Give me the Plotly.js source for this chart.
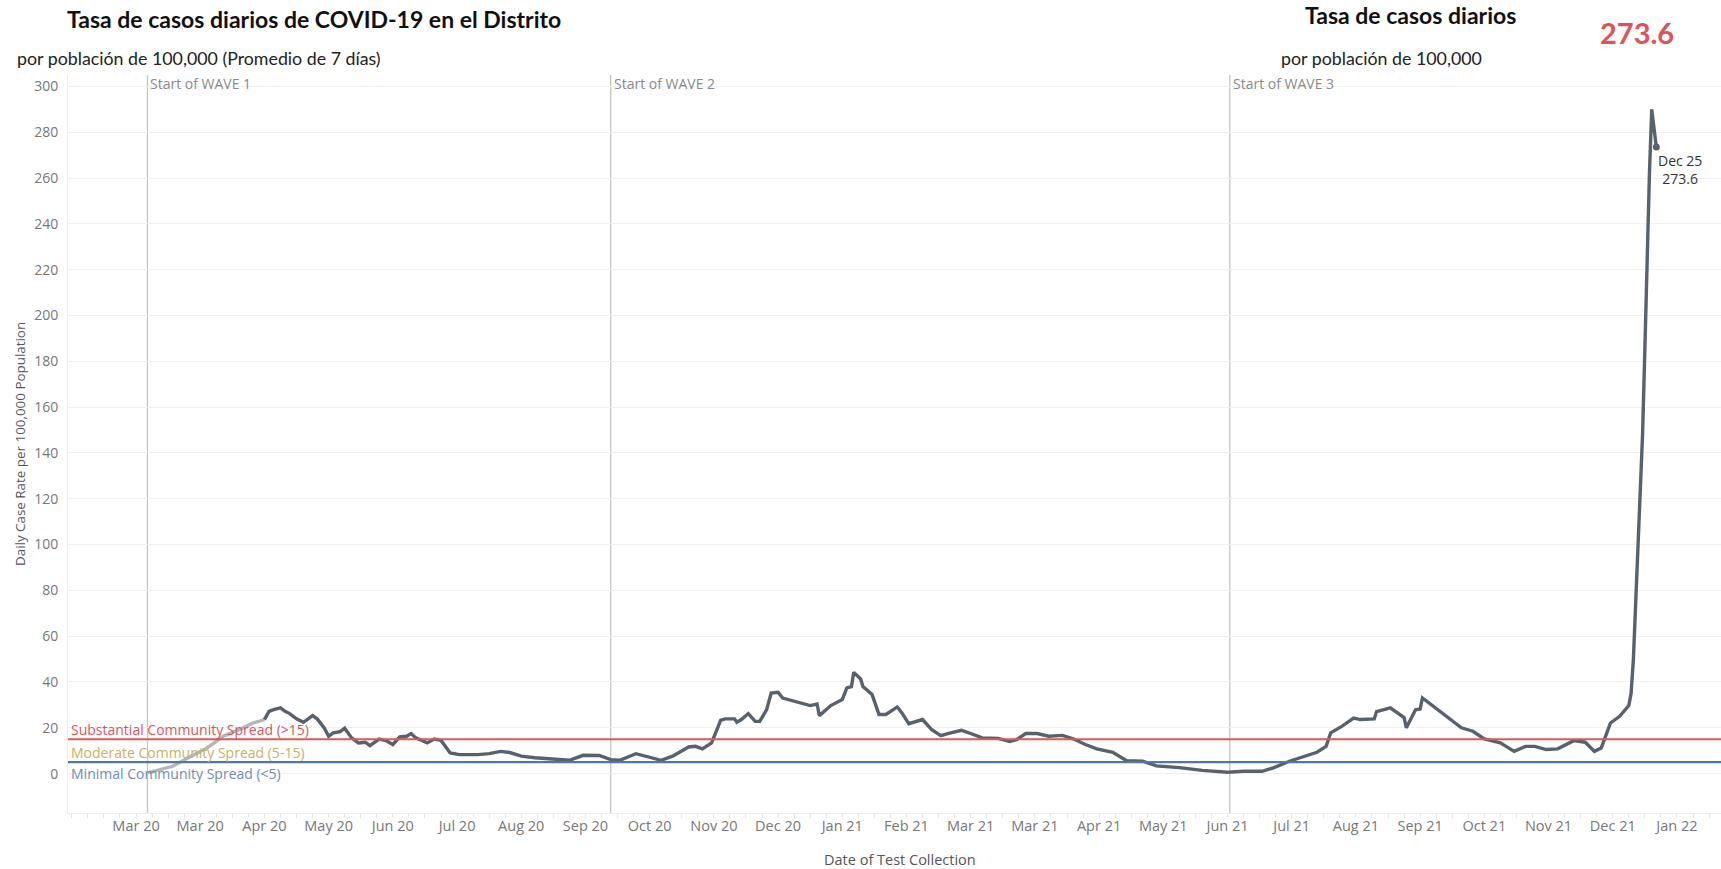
<!DOCTYPE html>
<html>
<head>
<meta charset="utf-8">
<script src="https://cdn.plot.ly/plotly-3.0.1.min.js"></script>
<style>
html,body{margin:0;padding:0;background:#fff;}
#chart{width:1721px;height:869px;}
</style>
</head>
<body>
<div id="chart"></div>
<script>
// Early (lighter) part of the curve
const earlyDates = ['2020-03-07','2020-03-12','2020-03-18','2020-03-26','2020-04-02','2020-04-09','2020-04-16','2020-04-22','2020-04-27'];
const earlyValues = [0.3,1.5,3.2,7.6,11.2,16.3,19.2,22.1,23.6];

// Main 7-day average daily case rate per 100,000
const caseDates = [
'2020-04-27','2020-04-29','2020-05-01','2020-05-04','2020-05-06','2020-05-08','2020-05-11','2020-05-14','2020-05-18','2020-05-20',
'2020-05-23','2020-05-25','2020-05-27','2020-05-30','2020-06-01','2020-06-04','2020-06-07','2020-06-10','2020-06-12','2020-06-16',
'2020-06-19','2020-06-22','2020-06-25','2020-06-28','2020-06-30','2020-07-02','2020-07-07','2020-07-10','2020-07-13','2020-07-17',
'2020-07-21','2020-07-29','2020-08-03','2020-08-08','2020-08-12','2020-08-17','2020-08-23','2020-09-01','2020-09-07','2020-09-13',
'2020-09-20','2020-09-25','2020-09-29','2020-10-06','2020-10-12','2020-10-17','2020-10-22','2020-10-29','2020-11-01','2020-11-04',
'2020-11-08','2020-11-10','2020-11-12','2020-11-14','2020-11-18','2020-11-19','2020-11-21','2020-11-24','2020-11-27','2020-11-29',
'2020-12-02','2020-12-04','2020-12-07','2020-12-09','2020-12-16','2020-12-21','2020-12-24','2020-12-25','2020-12-30','2021-01-04',
'2021-01-06','2021-01-08','2021-01-09','2021-01-12','2021-01-13','2021-01-17','2021-01-20','2021-01-23','2021-01-28','2021-01-30',
'2021-02-02','2021-02-08','2021-02-12','2021-02-16','2021-02-19','2021-02-25','2021-03-01','2021-03-06','2021-03-13','2021-03-18',
'2021-03-21','2021-03-25','2021-03-30','2021-04-04','2021-04-10','2021-04-15','2021-04-20','2021-04-25','2021-05-02','2021-05-08',
'2021-05-15','2021-05-21','2021-05-31','2021-06-10','2021-06-21','2021-06-28','2021-07-06','2021-07-11','2021-07-18','2021-07-25',
'2021-07-30','2021-08-03','2021-08-05','2021-08-10','2021-08-15','2021-08-18','2021-08-24','2021-08-25','2021-08-31','2021-09-06',
'2021-09-07','2021-09-11','2021-09-13','2021-09-14','2021-09-19','2021-09-24','2021-10-01','2021-10-06','2021-10-11','2021-10-18',
'2021-10-24','2021-10-29','2021-11-02','2021-11-07','2021-11-12','2021-11-19','2021-11-24','2021-11-28','2021-12-01','2021-12-05',
'2021-12-09','2021-12-13','2021-12-14','2021-12-15','2021-12-16','2021-12-17','2021-12-18','2021-12-19','2021-12-20','2021-12-21',
'2021-12-22','2021-12-23','2021-12-24','2021-12-25'
];
const caseValues = [
23.6,27.2,27.9,28.7,27.2,26.2,23.9,22.4,25.3,23.9,
20.0,16.3,17.8,18.3,19.8,15.6,13.4,13.7,12.2,15.1,
14.4,12.7,16.0,16.3,17.5,15.6,13.4,15.1,14.5,9.0,
8.3,8.3,8.7,9.7,9.2,7.6,6.9,6.4,5.8,8.0,
7.9,6.1,5.8,8.7,7.3,5.8,7.6,11.6,11.9,10.8,
13.4,18.5,23.3,23.9,23.9,22.4,23.6,26.2,22.8,22.8,
27.9,35.2,35.5,33.0,31.2,29.7,30.4,25.3,29.7,32.3,
37.4,38.0,44.2,41.3,38.0,34.5,25.8,25.8,29.1,26.5,
21.8,23.6,19.2,16.6,17.5,18.9,17.5,15.6,15.4,14.0,
14.8,17.5,17.5,16.3,16.7,15.1,12.7,10.8,9.3,5.6,
5.4,3.4,2.6,1.4,0.6,1.0,1.0,2.5,5.4,7.6,
9.3,11.9,17.8,20.7,24.2,23.6,23.9,27.1,28.7,24.5,
20.0,27.9,28.2,33.0,29.1,25.0,20.0,18.5,15.1,13.4,
9.7,11.9,11.9,10.5,10.8,14.4,13.7,9.7,11.2,22.1,
25.0,29.7,35.0,50.0,75.0,100.0,125.0,148.0,185.0,225.0,
262.0,290.0,282.0,273.6
];

// Axis ticks (every 4 weeks) and their labels
const tickDates = ['2020-03-02','2020-03-30','2020-04-27','2020-05-25','2020-06-22','2020-07-20','2020-08-17','2020-09-14','2020-10-12','2020-11-09','2020-12-07','2021-01-04','2021-02-01','2021-03-01','2021-03-29','2021-04-26','2021-05-24','2021-06-21','2021-07-19','2021-08-16','2021-09-13','2021-10-11','2021-11-08','2021-12-06','2022-01-03'];
const tickLabels = ['Mar 20','Mar 20','Apr 20','May 20','Jun 20','Jul 20','Aug 20','Sep 20','Oct 20','Nov 20','Dec 20','Jan 21','Feb 21','Mar 21','Mar 21','Apr 21','May 21','Jun 21','Jul 21','Aug 21','Sep 21','Oct 21','Nov 21','Dec 21','Jan 22'];

// Wave markers
const waveDates = ['2020-03-07','2020-09-25','2021-06-22'];
const waveLabels = ['Start of WAVE 1','Start of WAVE 2','Start of WAVE 3'];

// Community spread thresholds
const thresholdValues = [15, 5];
const thresholdColors = ['#e15759', '#4e79a7'];
const spreadLabels = ['Substantial Community Spread (>15)','Moderate Community Spread (5-15)','Minimal Community Spread (<5)'];
const spreadLabelValues = [19.2, 9.2, 0];
const spreadLabelColors = ['#d9575b','#c9b062','#6f8db3'];

const lastDate = caseDates[caseDates.length-1];
const lastValue = caseValues[caseValues.length-1];
const lastLabel = 'Dec 25';

const FONT = 'Open Sans, Lato, sans-serif';
const TFONT = 'Lato, Open Sans, sans-serif';

const traces = [
  {x: earlyDates, y: earlyValues, type:'scatter', mode:'lines',
   line:{color:'#b2b7bc', width:3.4}, hoverinfo:'skip', showlegend:false},
  {x: caseDates, y: caseValues, type:'scatter', mode:'lines',
   line:{color:'#58626d', width:3.4}, showlegend:false},
  {x: [lastDate], y: [lastValue], type:'scatter', mode:'markers',
   marker:{color:'#58626d', size:7}, showlegend:false}
];

const shapes = [];
const annotations = [];

// zero dotted line
shapes.push({type:'line', xref:'paper', yref:'y', x0:0.133, x1:1, y0:0, y1:0,
  line:{color:'#cfcfcf', width:1, dash:'dot'}, layer:'below'});

waveDates.forEach((d,i)=>{
  shapes.push({type:'line', xref:'x', yref:'paper', x0:d, x1:d, y0:0, y1:1,
    line:{color:'#c4c4c4', width:1.3}, layer:'below'});
  annotations.push({x:d, xref:'x', y:1, yref:'paper', text:waveLabels[i], showarrow:false,
    xanchor:'left', yanchor:'top', xshift:1, yshift:3,
    font:{family:FONT, size:14, color:'#8a8a8a'}});
});

thresholdValues.forEach((v,i)=>{
  shapes.push({type:'line', xref:'paper', yref:'y', x0:0, x1:1, y0:v, y1:v,
    line:{color:thresholdColors[i], width:2.2}, layer:'above'});
});

spreadLabels.forEach((t,i)=>{
  annotations.push({x:0, xref:'paper', y:spreadLabelValues[i], yref:'y', text:t, showarrow:false,
    xanchor:'left', yanchor:'middle', xshift:1,
    font:{family:FONT, size:14, color:spreadLabelColors[i]}});
});

// end label
annotations.push({x:lastDate, xref:'x', y:lastValue, yref:'y', text:lastLabel+'<br>'+lastValue.toFixed(1),
  showarrow:false, xanchor:'left', yanchor:'top', xshift:0, yshift:-2, align:'center',
  font:{family:FONT, size:14, color:'#333'}});

// titles
annotations.push({xref:'paper', yref:'paper', x:-0.002, y:1.0759, xanchor:'left', yanchor:'middle', showarrow:false,
  text:'<b>Tasa de casos diarios de COVID-19 en el Distrito</b>', font:{family:TFONT, size:23, color:'#111', weight:900}});
annotations.push({xref:'paper', yref:'paper', x:-0.0321, y:1.023, xanchor:'left', yanchor:'middle', showarrow:false,
  text:'por población de 100,000 (Promedio de 7 días)', font:{family:TFONT, size:17.8, color:'#222'}});
annotations.push({xref:'paper', yref:'paper', x:0.747, y:1.081, xanchor:'left', yanchor:'middle', showarrow:false,
  text:'<b>Tasa de casos diarios</b>', font:{family:TFONT, size:23, color:'#111', weight:900}});
annotations.push({xref:'paper', yref:'paper', x:0.7325, y:1.023, xanchor:'left', yanchor:'middle', showarrow:false,
  text:'por población de 100,000', font:{family:TFONT, size:17.8, color:'#222'}});
annotations.push({xref:'paper', yref:'paper', x:0.949, y:1.057, xanchor:'center', yanchor:'middle', showarrow:false,
  text:'<b>'+lastValue.toFixed(1)+'</b>', font:{family:TFONT, size:29, color:'#df5256', weight:900}});

// axis titles
annotations.push({xref:'paper', yref:'paper', x:0, y:0.5, xshift:-48, xanchor:'center', yanchor:'middle', showarrow:false,
  textangle:-90, text:'Daily Case Rate per 100,000 Population', font:{family:FONT, size:13.4, color:'#555'}});
annotations.push({xref:'paper', yref:'paper', x:0.5, y:0, yshift:-46, xshift:5, xanchor:'center', yanchor:'middle', showarrow:false,
  text:'Date of Test Collection', font:{family:FONT, size:14.5, color:'#555'}});

const layout = {
  width:1721, height:869, autosize:false,
  margin:{l:68, r:0, t:75, b:56, pad:0},
  paper_bgcolor:'#fff', plot_bgcolor:'#fff',
  showlegend:false,
  xaxis:{type:'date', range:['2020-02-01 08:00','2022-01-22 05:00'],
    tickmode:'array', tickvals:tickDates, ticktext:tickLabels,
    showgrid:false, zeroline:false, showline:true, linecolor:'#ececec', linewidth:1,
    ticks:'', tickfont:{family:FONT, size:14.5, color:'#777'},
    minor:{ticks:'outside', dtick:7*86400000, tick0:'2020-03-02', ticklen:4, tickcolor:'#e6e6e6', showgrid:false},
    fixedrange:true},
  yaxis:{range:[-17.2, 305], tickmode:'linear', tick0:0, dtick:20,
    showgrid:true, gridcolor:'#f0f0f0', gridwidth:1, zeroline:false,
    showline:true, linecolor:'#ececec', linewidth:1,
    ticks:'', ticklabelstandoff:6, tickfont:{family:FONT, size:14, color:'#777'}, fixedrange:true},
  shapes:shapes,
  annotations:annotations
};

Plotly.newPlot('chart', traces, layout, {displayModeBar:false, staticPlot:true});
</script>
</body>
</html>
